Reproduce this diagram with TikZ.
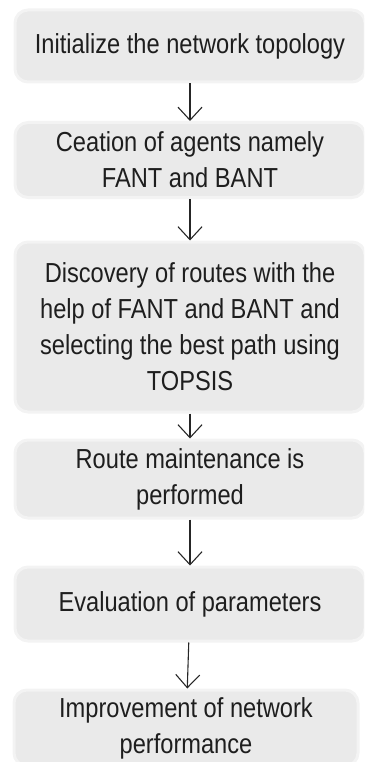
\documentclass[tikz,border=0pt]{standalone}
\usepackage{fontspec}
\setmainfont{Liberation Sans}[FakeStretch=0.86]
\usetikzlibrary{arrows.meta}
\definecolor{boxfill}{RGB}{234,234,234}
\definecolor{boxedge}{RGB}{243,243,243}
\definecolor{txt}{RGB}{30,30,30}
\tikzset{
  stepbox/.style={draw=boxedge, line width=3pt, fill=boxfill, rounded corners=13pt,
    minimum width=350pt, align=center, text=txt, inner sep=0pt,
    font=\fontsize{27.5}{36}\selectfont},
  arr/.style={draw=black!85, line width=1.1pt, -{Straight Barb[length=13pt,width=24pt,line width=1.1pt]}}
}
\begin{document}
\begin{tikzpicture}[x=1pt,y=-1pt]
\useasboundingbox (0,0) rectangle (364,762);
\begin{scope}
\clip (0,0) rectangle (364,762);
\node[stepbox, minimum height=72pt] (b1) at (190,46) {Initialize the network topology};
\node[stepbox, minimum height=75pt] (b2) at (190,160) {Ceation of agents namely\\FANT and BANT};
\node[stepbox, minimum height=170pt] (b3) at (190,327) {Discovery of routes with the\\help of FANT and BANT and\\selecting the best path using\\TOPSIS};
\node[stepbox, minimum height=78pt] (b4) at (190,479) {Route maintenance is\\performed};
\node[stepbox, minimum height=74pt] (b5) at (190,604) {Evaluation of parameters};
\node[stepbox, minimum height=76pt, minimum width=344pt] (b6) at (186,728) {Improvement of network\\performance};
\draw[arr] (b1) -- (b2);
\draw[arr] (b2) -- (b3);
\draw[arr] (b3) -- (b4);
\draw[arr] (b4) -- (b5);
\draw[arr] (b5) -- (b6);
\end{scope}
\end{tikzpicture}
\end{document}
